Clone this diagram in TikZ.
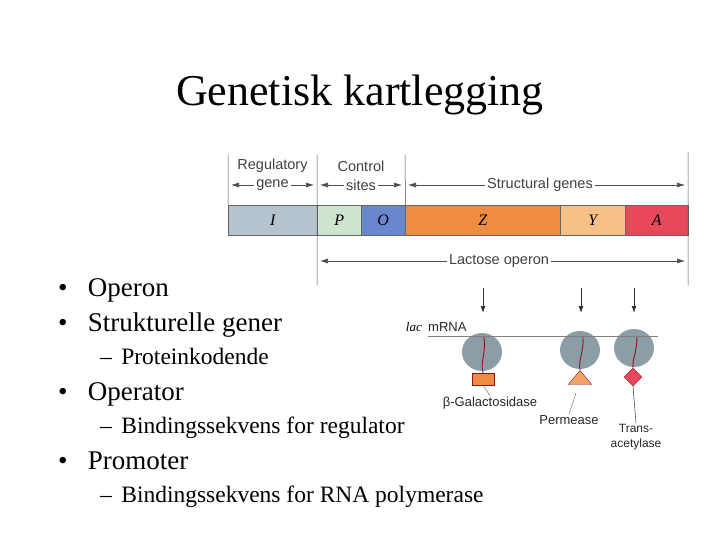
\documentclass[tikz,border=0pt]{standalone}
\usepackage{fontspec}
\setmainfont{Liberation Serif}
\newfontfamily\dsans{Liberation Sans}
\usetikzlibrary{arrows.meta,shapes.geometric}
\definecolor{cI}{RGB}{180,195,205}\definecolor{cP}{RGB}{205,228,208}
\definecolor{cO}{RGB}{105,135,205}\definecolor{cZ}{RGB}{240,140,65}
\definecolor{cY}{RGB}{246,192,135}\definecolor{cA}{RGB}{232,72,92}
\definecolor{rib}{RGB}{140,158,165}\definecolor{chain}{RGB}{140,20,30}
\begin{document}
\begin{tikzpicture}[x=1pt,y=-1pt,
  lab/.style={font=\dsans\fontsize{14.5}{16}\selectfont,text=black!75,inner sep=2pt},
  lab2/.style={font=\dsans\fontsize{13}{16}\selectfont,text=black!85,inner sep=1pt},
  seg/.style={draw=black!60,line width=0.5pt,minimum height=30,inner sep=0,anchor=north west,font=\itshape\fontsize{16}{18}\selectfont},
  arr/.style={-{Latex[length=8pt,width=5pt]},black!70,line width=0.6pt},
  bul/.style={anchor=base west,font=\fontsize{27}{30}\selectfont,inner sep=0},
  sub/.style={anchor=base west,font=\fontsize{23.5}{26}\selectfont,inner sep=0},
  ribo/.style={fill=rib,draw=none,ellipse,minimum width=40,minimum height=38}]
\useasboundingbox (0,0) rectangle (720,540);
\node[font=\fontsize{44}{50}\selectfont] (title) at (360,95) {Genetisk kartlegging};
% gene bar
\node[seg,fill=cI,minimum width=89] (I) at (228,205) {I};
\node[seg,fill=cP,minimum width=44] (P) at (317,205) {P};
\node[seg,fill=cO,minimum width=44] (O) at (361,205) {O};
\node[seg,fill=cZ,minimum width=155] (Z) at (405,205) {Z};
\node[seg,fill=cY,minimum width=65] (Y) at (560,205) {Y};
\node[seg,fill=cA,minimum width=63] (A) at (625,205) {A};
\coordinate (v1t) at (228,155);\coordinate (v2t) at (317,155);\coordinate (v3t) at (405,155);
\coordinate (v4t) at (688,152);\coordinate (v2b) at (317,285);\coordinate (v4b) at (688,285);
\draw[black!70,line width=0.5pt] (v1t)--(I.north west) (v2t)--(v2b) (v3t)--(O.north east) (v4t)--(v4b);
\node[lab] (rg) at (272.5,166) {Regulatory};
\node[lab] (gn) at (272.5,185) {gene};
\node[lab] (cs) at (361,166) {Control};
\node[lab] (st) at (361,185) {sites};
\node[lab] (sg) at (540,185) {Structural genes};
\node[lab] (lo) at (499,261) {Lactose operon};
\coordinate (a1) at (231,185);\coordinate (a2) at (314,185);\coordinate (a3) at (320,185);
\coordinate (a4) at (402,185);\coordinate (a5) at (408,185);\coordinate (a6) at (685,185);
\coordinate (a7) at (320,261);\coordinate (a8) at (685,261);
\draw[arr] (gn.west)--(a1);\draw[arr] (gn.east)--(a2);
\draw[arr] (st.west)--(a3);\draw[arr] (st.east)--(a4);
\draw[arr] (sg.west)--(a5);\draw[arr] (sg.east)--(a6);
\draw[arr] (lo.west)--(a7);\draw[arr] (lo.east)--(a8);
% translation
\foreach \n/\x in {1/483,2/581,3/634}{
  \coordinate (d\n t) at (\x,288);\coordinate (d\n b) at (\x,313);
  \draw[-{Latex[length=7pt,width=5pt]},black!80,line width=0.8pt] (d\n t)--(d\n b);}
\node[anchor=base east,font=\itshape\fontsize{13}{14}\selectfont,inner sep=0] (lac) at (422,331) {lac};
\node[lab2,anchor=base west,inner sep=0] (mrna) at (428,331) {mRNA};
\coordinate (m1) at (428,336);\coordinate (m2) at (658,336);
\node[ribo] (r1) at (482,352) {};
\node[ribo] (r2) at (580,350) {};
\node[ribo] (r3) at (634,348) {};
\draw[black!50,line width=0.8pt] (m1)--(m2);
\node[draw=chain,fill=cZ,minimum width=22,minimum height=12,inner sep=0] (bg) at (483,379) {};
\node[draw=chain,fill=cZ!80!white,isosceles triangle,shape border rotate=90,minimum width=22,minimum height=14,inner sep=0,isosceles triangle apex angle=80] (pm) at (580,379) {};
\node[draw=chain,fill=cA,diamond,minimum width=18,minimum height=18,inner sep=0] (ta) at (633,377) {};
\draw[chain,line width=0.9pt] (484,337) .. controls (486,355) and (480,362) .. (bg.north);
\draw[chain,line width=0.9pt] (583,337) .. controls (584,352) and (578,360) .. (pm.apex);
\draw[chain,line width=0.9pt] (637,337) .. controls (637,352) and (632,360) .. (ta.north);
\node[lab2] (bgl) at (490,403) {β-Galactosidase};
\node[lab2] (pml) at (569,420) {Permease};
\node[lab2,align=center,font=\dsans\fontsize{12}{15}\selectfont] (tal) at (636,437) {Trans-\\acetylase};
\draw[black!60,line width=0.4pt] (bg.south)--(bgl.north);
\coordinate (pq) at (576,393);
\draw[black!60,line width=0.4pt] (pq)--(pml.north);
\draw[black!70,line width=0.6pt] (ta.south)--(tal.north);
% bullets
\node[bul] (b1) at (58,296) {•\hspace{0.75em}Operon};
\node[bul] (b2) at (58,331) {•\hspace{0.75em}Strukturelle gener};
\node[sub] (s1) at (100,364) {–\hspace{0.4em}Proteinkodende};
\node[bul] (b3) at (58,400) {•\hspace{0.75em}Operator};
\node[sub] (s2) at (100,433) {–\hspace{0.4em}Bindingssekvens for regulator};
\node[bul] (b4) at (58,469) {•\hspace{0.75em}Promoter};
\node[sub] (s3) at (100,502) {–\hspace{0.4em}Bindingssekvens for RNA polymerase};
\end{tikzpicture}
\end{document}
